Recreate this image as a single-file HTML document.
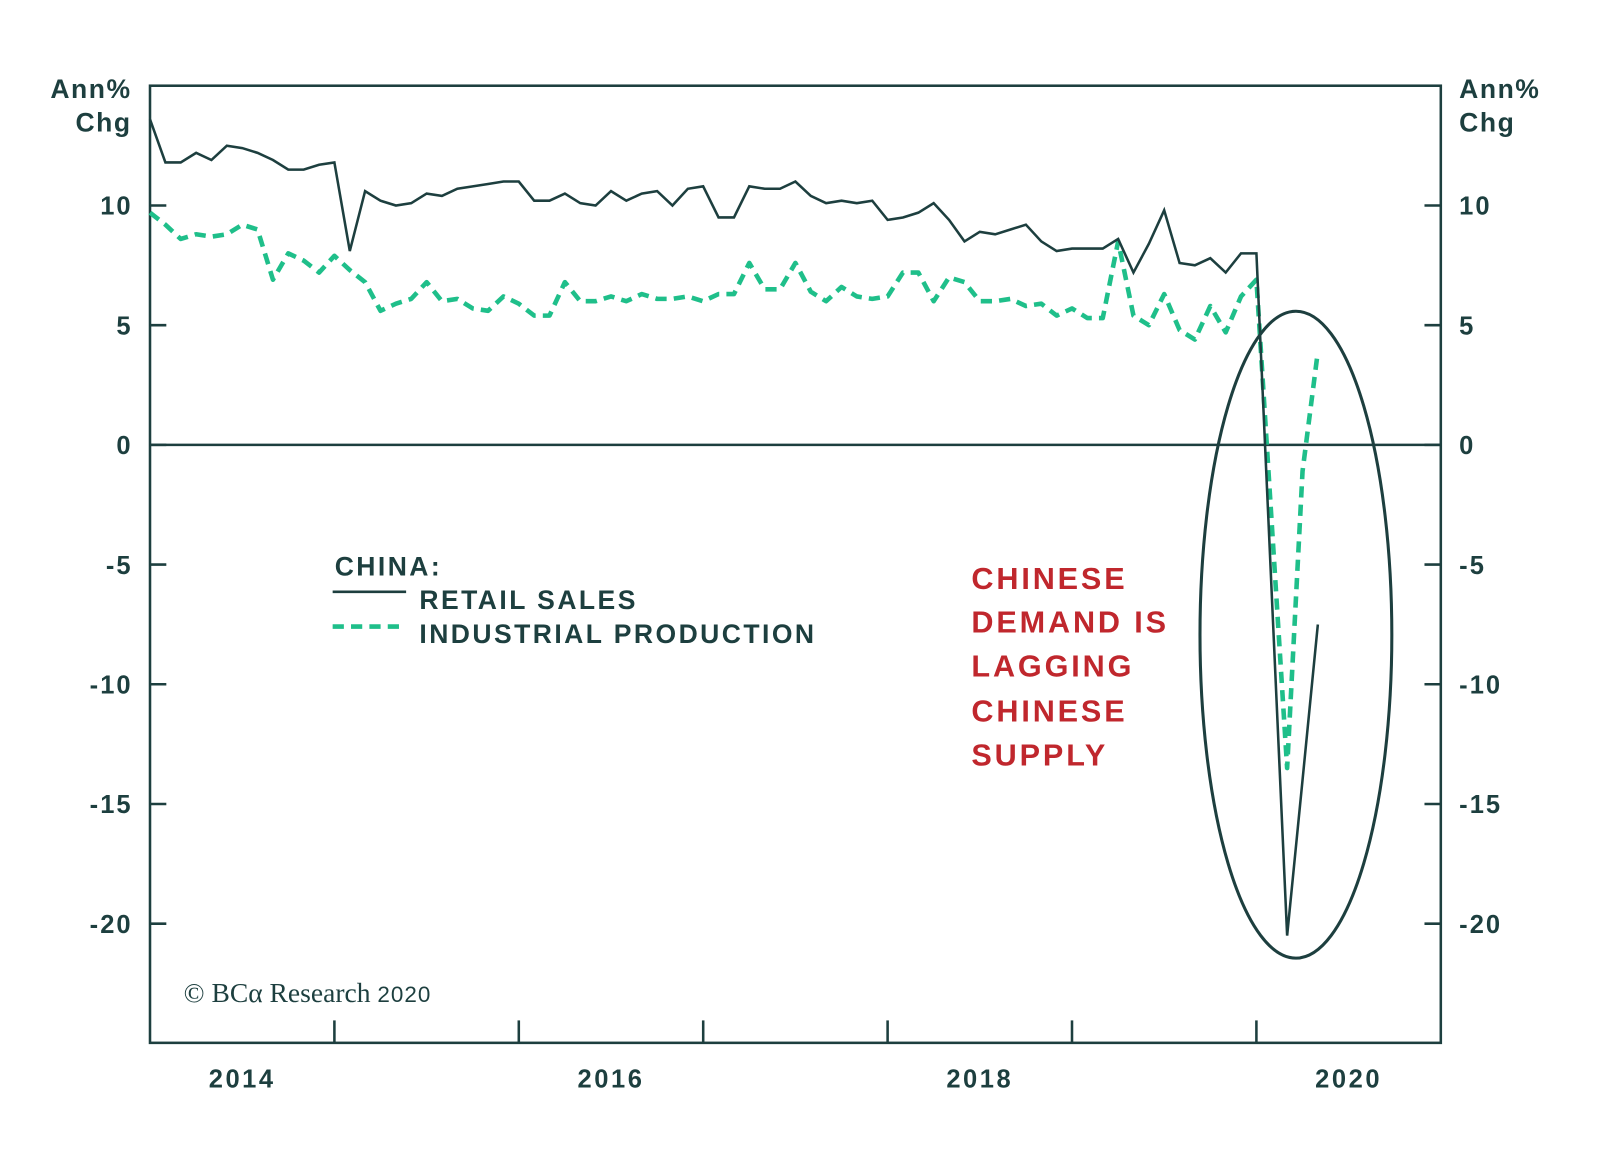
<!DOCTYPE html>
<html><head><meta charset="utf-8"><style>
html,body{margin:0;padding:0;background:#fff;}
svg{display:block;font-family:"Liberation Sans",sans-serif;}
</style></head><body>
<svg id="chart" width="1600" height="1160" viewBox="0 0 1600 1160">
<g transform="scale(1.0204)">
<g id="axes"></g>
<g id="series"></g>
<ellipse cx="1270" cy="622" rx="94" ry="317" fill="none" stroke="#1d3f3f" stroke-width="3"/>
<g font-weight="bold" fill="#1d3f3f" font-size="26" letter-spacing="2.4">
<text x="328" y="564">CHINA:</text>
<line x1="326" y1="580" x2="398" y2="580" stroke="#1d3f3f" stroke-width="2.5"/>
<text x="411" y="597">RETAIL SALES</text>
<line x1="326" y1="614" x2="398" y2="614" stroke="#1fbf8a" stroke-width="4.5" stroke-dasharray="11,7"/>
<text x="411" y="630">INDUSTRIAL PRODUCTION</text>
</g>
<g fill="#c0272d" font-size="30" font-weight="bold" letter-spacing="2.8">
<text x="952" y="577">CHINESE</text>
<text x="952" y="620">DEMAND IS</text>
<text x="952" y="663">LAGGING</text>
<text x="952" y="707">CHINESE</text>
<text x="952" y="750">SUPPLY</text>
</g>
<text x="180" y="982" font-family="'Liberation Serif',serif" font-size="27" fill="#1d3f3f">© BCα Research <tspan font-family="'Liberation Sans',sans-serif" font-size="22" letter-spacing="1">2020</tspan></text>
<g font-weight="bold" fill="#1d3f3f" font-size="26" letter-spacing="1.5">
<text x="129" y="96" text-anchor="end">Ann%</text>
<text x="129" y="129" text-anchor="end">Chg</text>
<text x="1430" y="96">Ann%</text>
<text x="1430" y="129">Chg</text>
</g>
</g>
</svg>
<script>
const yTicks=[10,5,0,-5,-10,-15,-20];
const yearTickMonths=[12,24,36,48,60,72];
const yearLabels=["2014","2016","2018","2020"];
const yearLabelMonths=[6,30,54,78];
const retail=[13.6,11.8,11.8,12.2,11.9,12.5,12.4,12.2,11.9,11.5,11.5,11.7,11.8,8.1,10.6,10.2,10.0,10.1,10.5,10.4,10.7,10.8,10.9,11.0,11.0,10.2,10.2,10.5,10.1,10.0,10.6,10.2,10.5,10.6,10.0,10.7,10.8,9.5,9.5,10.8,10.7,10.7,11.0,10.4,10.1,10.2,10.1,10.2,9.4,9.5,9.7,10.1,9.4,8.5,8.9,8.8,9.0,9.2,8.5,8.1,8.2,8.2,8.2,8.6,7.2,8.4,9.8,7.6,7.5,7.8,7.2,8.0,8.0,null,-20.5,-14.0,-7.5];
const ip=[9.7,9.2,8.6,8.8,8.7,8.8,9.2,9.0,6.9,8.0,7.7,7.2,7.9,7.3,6.8,5.6,5.9,6.1,6.8,6.0,6.1,5.7,5.6,6.2,5.9,5.4,5.4,6.8,6.0,6.0,6.2,6.0,6.3,6.1,6.1,6.2,6.0,6.3,6.3,7.6,6.5,6.5,7.6,6.4,6.0,6.6,6.2,6.1,6.2,7.2,7.2,6.0,7.0,6.8,6.0,6.0,6.1,5.8,5.9,5.4,5.7,5.3,5.3,8.5,5.4,5.0,6.3,4.8,4.4,5.8,4.7,6.2,6.9,null,-13.5,-1.1,3.9];
const L=147,R=1412,T=84,B=1022;
const X=m=>L+m*(1265/84);
const Y=v=>436-v*(117.3/5);
const NS="http://www.w3.org/2000/svg";
function mk(tag,attrs,parent){const e=document.createElementNS(NS,tag);for(const k in attrs)e.setAttribute(k,attrs[k]);parent.appendChild(e);return e;}
const ax=document.getElementById('axes');
const sr=document.getElementById('series');
const C="#1d3f3f";
let frame=mk('rect',{x:L,y:T,width:R-L,height:B-T,fill:'none',stroke:C,'stroke-width':2.5},ax);


let zl=mk('line',{x1:L,x2:R,y1:Y(0),y2:Y(0),stroke:C,'stroke-width':2.5},ax);


yTicks.forEach(v=>{
  const y=Y(v);
  mk('line',{x1:L,x2:L+16,y1:y,y2:y,stroke:C,'stroke-width':2.5},ax);
  mk('line',{x1:R-16,x2:R,y1:y,y2:y,stroke:C,'stroke-width':2.5},ax);
  let t=mk('text',{x:130,y:y+9,'text-anchor':'end','font-size':25,'font-weight':'bold','letter-spacing':2,fill:C},ax);
  t.textContent=String(v);
  
  
  let t2=mk('text',{x:1430,y:y+9,'font-size':25,'font-weight':'bold','letter-spacing':2,fill:C},ax);
  t2.textContent=String(v);
  
  
});
yearTickMonths.forEach(m=>{mk('line',{x1:X(m),x2:X(m),y1:B-22,y2:B,stroke:C,'stroke-width':2.5},ax);});
yearLabels.forEach((s,i)=>{
  let t=mk('text',{x:X(yearLabelMonths[i]),y:1066,'text-anchor':'middle','font-size':25,'font-weight':'bold','letter-spacing':2.5,fill:C},ax);
  t.textContent=s;
  
  
});
function pathOf(arr){let d='';arr.forEach((v,i)=>{if(v===null)return;d+=(d?'L':'M')+X(i).toFixed(1)+','+Y(v).toFixed(1);});return d;}
let p1=mk('path',{d:pathOf(ip),fill:'none',stroke:'#1fbf8a','stroke-width':4.5,'stroke-dasharray':'11,7','stroke-linejoin':'round'},sr);


let p2=mk('path',{d:pathOf(retail),fill:'none',stroke:C,'stroke-width':2.5,'stroke-linejoin':'miter'},sr);


</script>
</body></html>
